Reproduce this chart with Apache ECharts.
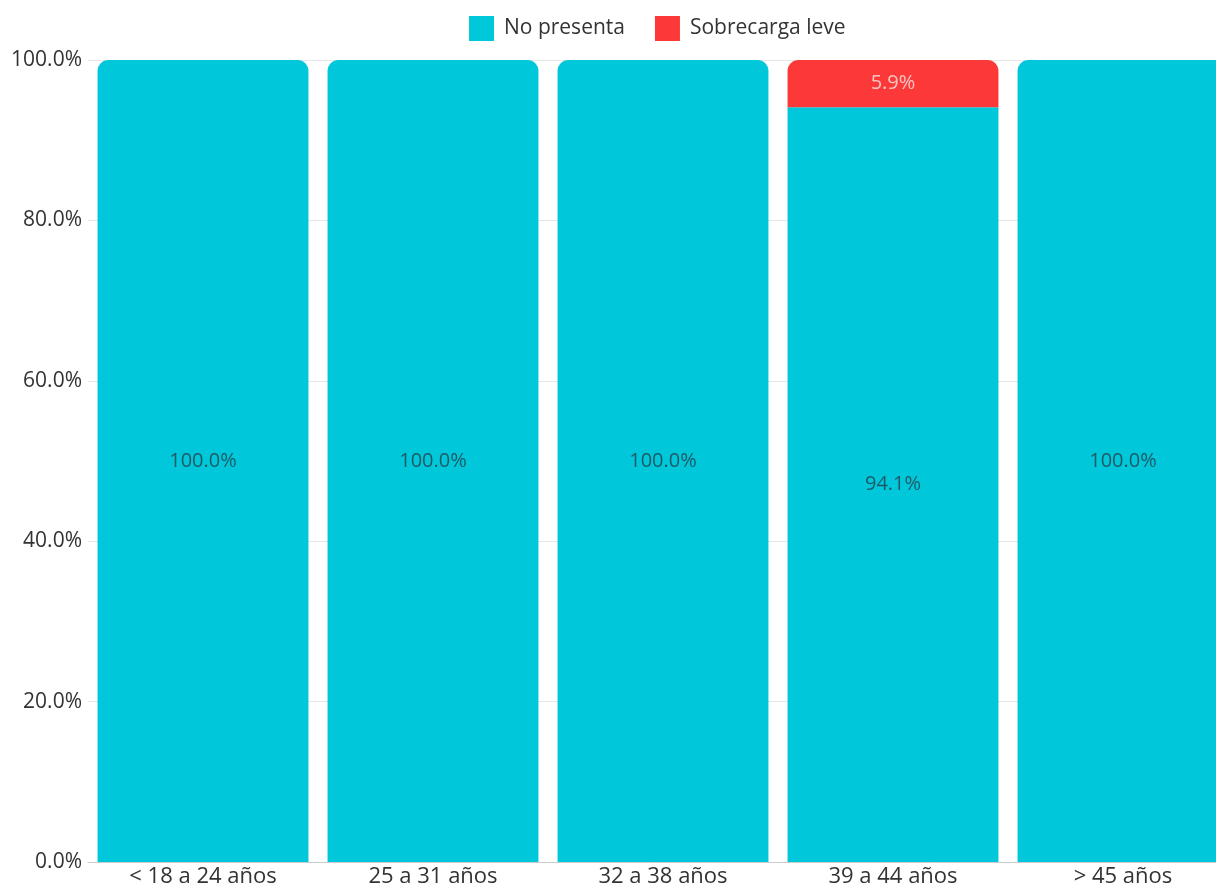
<!DOCTYPE html>
<html>
<head>
<meta charset="utf-8">
<style>html,body{margin:0;padding:0;background:#fff}#c{width:1216px;height:891px}</style>
<script src="https://cdn.jsdelivr.net/npm/echarts@6/dist/echarts.min.js"></script>
</head>
<body>
<div id="c"></div>
<script>
var categories = ['< 18 a 24 años', '25 a 31 años', '32 a 38 años', '39 a 44 años', '> 45 años'];
var noPresenta = [100.0, 100.0, 100.0, 94.1, 100.0];
var sobrecargaLeve = [0, 0, 0, 5.9, 0];
var yTicks = [0, 20, 40, 60, 80, 100];

var FONT = '"Open Sans", sans-serif';
var teal = '#00C8DA';
var red = '#FC3838';
var R = 11;

var chart = echarts.init(document.getElementById('c'));
chart.setOption({
  animation: false,
  textStyle: { fontFamily: FONT },
  legend: {
    top: 11, left: 464,
    itemWidth: 25, itemHeight: 25, itemGap: 30,
    icon: 'rect',
    textStyle: { fontSize: 21, color: '#333', fontFamily: FONT, padding: [0, 0, 0, 5] },
    data: ['No presenta', 'Sobrecarga leve']
  },
  grid: { left: 88, top: 60, bottom: 29, width: 1150, outerBoundsMode: 'none', containLabel: false },
  xAxis: {
    type: 'category',
    data: categories,
    axisTick: { show: false },
    axisLine: { lineStyle: { color: '#cccccc' } },
    axisLabel: { fontSize: 22, color: '#333', margin: 4, fontFamily: FONT }
  },
  yAxis: {
    type: 'value', min: yTicks[0], max: yTicks[yTicks.length - 1], interval: 20,
    axisLine: { show: false }, axisTick: { show: false },
    splitLine: { lineStyle: { color: '#e6e6e6' } },
    axisLabel: { fontSize: 21, color: '#333', margin: 6, fontFamily: FONT,
      formatter: function (v) { return v.toFixed(1) + '%'; } }
  },
  series: [
    {
      name: 'No presenta', type: 'bar', stack: 's', barCategoryGap: '8.3%',
      itemStyle: { color: teal },
      data: noPresenta.map(function (v, i) {
        return { value: v, itemStyle: { borderRadius: sobrecargaLeve[i] > 0 ? 0 : [R, R, 0, 0] } };
      }),
      label: { show: true, position: 'inside', fontSize: 20, color: '#1d5a66', fontFamily: FONT,
        formatter: function (p) { return p.value > 0 ? p.value.toFixed(1) + '%' : ''; } }
    },
    {
      name: 'Sobrecarga leve', type: 'bar', stack: 's',
      itemStyle: { color: red, borderRadius: [R, R, 0, 0] },
      data: sobrecargaLeve,
      label: { show: true, position: 'inside', fontSize: 20, color: '#f8c4c4', fontFamily: FONT,
        formatter: function (p) { return p.value > 0 ? p.value.toFixed(1) + '%' : ''; } }
    }
  ]
});
</script>
</body>
</html>
